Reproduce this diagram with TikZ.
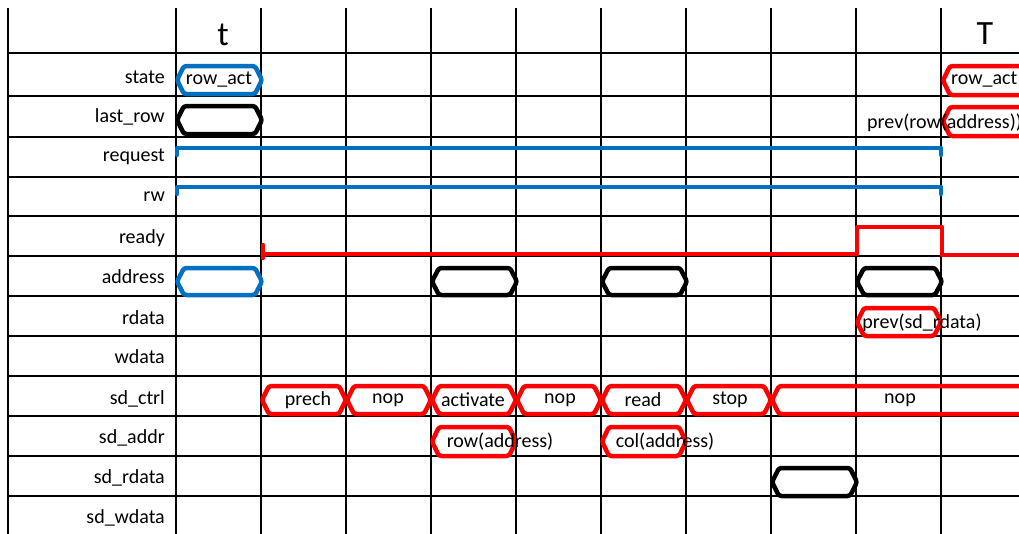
\documentclass[tikz,border=0pt]{standalone}
\usepackage{fontspec}
\setmainfont{Carlito}
\definecolor{sigblue}{RGB}{0,112,192}
\definecolor{sigred}{RGB}{255,0,0}
\tikzset{
  gridline/.style={line width=2pt,black},
  hexs/.style={line width=4.5pt, rounded corners=2.5pt, line join=round},
  sig/.style={line width=4.5pt, line join=round, line cap=round},
  lbl/.style={anchor=east, font=\fontsize{20}{23}\selectfont, inner sep=0pt},
  txt/.style={font=\fontsize{20}{23}\selectfont, inner sep=0pt},
  head/.style={font=\fontsize{34}{38}\selectfont, inner sep=0pt},
}
\newcommand{\hexshape}[5]{%
  \draw[hexs,#1] (#2,{(#4+#5)/2}) -- (#2+7,#4) -- (#3-7,#4) -- (#3,{(#4+#5)/2}) -- (#3-7,#5) -- (#2+7,#5) -- cycle;}
\begin{document}
\begin{tikzpicture}[x=1pt,y=-1pt]
\useasboundingbox (0,0) rectangle (1019,533);
\clip (0,0) rectangle (1019,533);
% grid
\foreach \xx in {8,176,261,346,431,516,601,686,771,856,941}
  \draw[gridline] (\xx,8) -- (\xx,535);
\foreach \yy in {53,96,137,177,216,256,296,336,376,416,456,496}
  \draw[gridline] (7,\yy) -- (1021,\yy);
% header
\node[head] (ht) at (223,35) {t};
\node[head] (hT) at (985,34) {T};
% labels
\node[lbl] (l1) at (165,77) {state};
\node[lbl] (l2) at (165,117) {last\_row};
\node[lbl] (l3) at (165,157) {request};
\node[lbl] (l4) at (165,197) {rw};
\node[lbl] (l5) at (165,238) {ready};
\node[lbl] (l6) at (165,277) {address};
\node[lbl] (l7) at (165,318) {rdata};
\node[lbl] (l8) at (165,357) {wdata};
\node[lbl] (l9) at (165,399) {sd\_ctrl};
\node[lbl] (l10) at (165,438) {sd\_addr};
\node[lbl] (l11) at (165,478) {sd\_rdata};
\node[lbl] (l12) at (165,518) {sd\_wdata};
% state
\hexshape{sigblue}{177}{262}{66}{94}
\node[txt] (s1) at (219,80) {row\_act};
\hexshape{sigred}{943}{1060}{66}{95}
\node[txt,anchor=west] (s2) at (951,80) {row\_act};
% last_row
\hexshape{black}{177}{262}{106}{134}
\hexshape{sigred}{943}{1060}{107}{136}
\node[txt,anchor=west] (lr2) at (867,123) {prev(row(address))};
% request, rw
\draw[sig,sigblue] (177,155) -- (177,148) -- (941,148) -- (941,155);
\draw[sig,sigblue] (177,194) -- (177,187) -- (941,187) -- (941,194);
% ready
\draw[sig,sigred] (263,245) -- (263,258);
\draw[sig,sigred,line cap=butt] (263,254) -- (857,254) -- (857,227) -- (942,227) -- (942,255) -- (1025,255);
% address
\hexshape{sigblue}{177}{262}{268}{295}
\hexshape{black}{432}{517}{268}{295}
\hexshape{black}{602}{687}{268}{295}
\hexshape{black}{857}{942}{268}{295}
% rdata
\hexshape{sigred}{857}{941}{308}{336}
\node[txt] (rd) at (922,323) {prev(sd\_rdata)};
% sd_ctrl
\hexshape{sigred}{262}{346}{386}{414}
\hexshape{sigred}{347}{431}{386}{414}
\hexshape{sigred}{432}{516}{386}{414}
\hexshape{sigred}{517}{601}{386}{414}
\hexshape{sigred}{602}{686}{386}{414}
\hexshape{sigred}{687}{771}{386}{414}
\hexshape{sigred}{772}{1060}{386}{414}
\node[txt] (c1) at (308,400) {prech};
\node[txt] (c2) at (388,400) {nop};
\node[txt] (c3) at (473,400) {activate};
\node[txt] (c4) at (560,400) {nop};
\node[txt] (c5) at (643,400) {read};
\node[txt] (c6) at (730,400) {stop};
\node[txt] (c7) at (900,400) {nop};
% sd_addr
\hexshape{sigred}{432}{516}{427}{456}
\hexshape{sigred}{602}{686}{427}{456}
\node[txt] (a1) at (500,442) {row(address)};
\node[txt] (a2) at (665,442) {col(address)};
% sd_rdata
\hexshape{black}{772}{857}{468}{496}
\end{tikzpicture}
\end{document}
